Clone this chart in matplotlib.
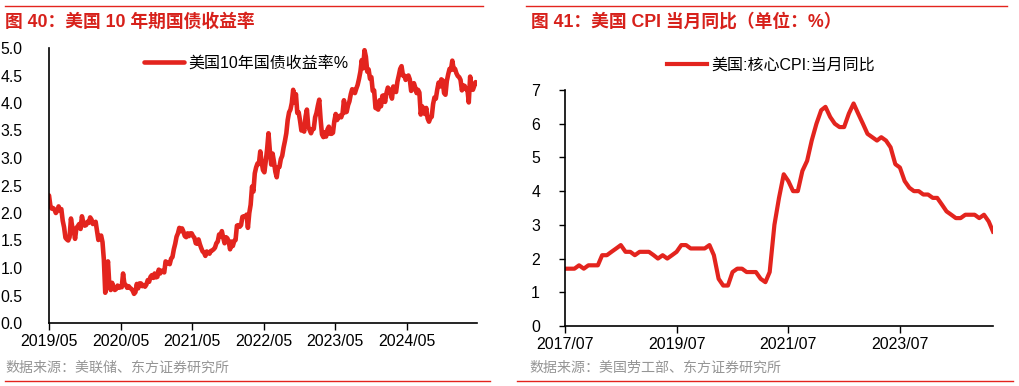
import matplotlib
matplotlib.use('Agg')
import matplotlib.pyplot as plt
import numpy as np
import pandas as pd

plt.rcParams['font.family'] = ['Liberation Sans', 'Noto Sans CJK SC']
plt.rcParams['axes.unicode_minus'] = False

RED = '#E3241E'
TITLE_RED = '#D7211B'

# US 10y treasury yield, weekly (Friday) values from 2019-05-24
y10 = [
    2.32, 2.13,                          # 2019-05
    2.08, 2.09, 2.06, 2.00,
    2.04, 2.12, 2.05, 2.07,
    1.86, 1.74, 1.55, 1.52, 1.50,
    1.56, 1.90, 1.74, 1.68,
    1.53, 1.73, 1.76, 1.80,
    1.71, 1.94, 1.83, 1.77, 1.78,
    1.84, 1.82, 1.92, 1.88,
    1.80, 1.82, 1.84, 1.68, 1.51,        # 2020-01
    1.58, 1.59, 1.47, 1.15,
    0.55, 0.96, 1.12, 0.68,
    0.60, 0.73, 0.65, 0.60,
    0.62, 0.68, 0.64, 0.66, 0.65,
    0.90, 0.70, 0.69, 0.64,
    0.67, 0.64, 0.62, 0.59, 0.53,
    0.56, 0.71, 0.63, 0.72,
    0.72, 0.67, 0.69, 0.66,
    0.70, 0.78, 0.75, 0.84, 0.87,
    0.82, 0.90, 0.83, 0.84,
    0.97, 0.90, 0.95, 0.94,
    0.92, 1.12, 1.09, 1.09, 1.07,        # 2021-01
    1.17, 1.20, 1.34, 1.44,
    1.57, 1.63, 1.73, 1.67,
    1.72, 1.66, 1.58, 1.56, 1.63,
    1.58, 1.63, 1.63, 1.58,
    1.55, 1.45, 1.44, 1.52,
    1.43, 1.36, 1.30, 1.28, 1.22,
    1.30, 1.28, 1.26, 1.31,
    1.32, 1.34, 1.37, 1.45,
    1.48, 1.61, 1.57, 1.67, 1.55,
    1.45, 1.56, 1.54, 1.48,
    1.34, 1.48, 1.40, 1.49, 1.51,
    1.77, 1.78, 1.75, 1.78,              # 2022-01
    1.93, 1.94, 1.93, 1.97,
    1.73, 2.00, 2.15, 2.48,
    2.39, 2.72, 2.83, 2.90, 2.89,
    3.12, 2.93, 2.78, 2.74,
    2.94, 3.16, 3.45, 3.13,
    2.88, 3.08, 2.93, 2.75, 2.65,
    2.83, 2.84, 2.98, 3.04,
    3.19, 3.31, 3.45, 3.69, 3.83,
    3.88, 4.00, 4.24, 4.01,
    4.16, 3.82, 3.83, 3.68,
    3.50, 3.57, 3.48, 3.75, 3.88,
    3.57, 3.51, 3.45, 3.52,              # 2023-01
    3.53, 3.74, 3.82, 3.95,
    4.06, 3.70, 3.43, 3.38, 3.47,
    3.39, 3.52, 3.57, 3.44,
    3.44, 3.46, 3.67, 3.80,
    3.69, 3.74, 3.77, 3.74, 3.81,
    4.05, 3.83, 3.84, 3.96,
    4.03, 4.16, 4.25, 4.24,
    4.18, 4.26, 4.33, 4.44, 4.57,
    4.78, 4.63, 4.96, 4.84,
    4.57, 4.61, 4.44, 4.47,
    4.22, 4.23, 3.91, 3.90, 3.88,
    4.05, 3.94, 4.13, 4.14,              # 2024-01
    4.02, 4.18, 4.28, 4.25,
    4.18, 4.08, 4.30, 4.22, 4.20,
    4.39, 4.50, 4.62, 4.67,
    4.50, 4.50, 4.42, 4.47, 4.50,
    4.43, 4.22, 4.25, 4.36,
    4.28, 4.18, 4.24, 4.19,
    3.79, 3.94, 3.89, 3.80, 3.91,
    3.72, 3.66, 3.73, 3.75,
    3.98, 4.10, 4.08, 4.24,
    4.37, 4.30, 4.43, 4.41, 4.18,
    4.15, 4.40, 4.52, 4.62,
    4.60, 4.77, 4.61, 4.62, 4.54,        # 2025-01
    4.49, 4.47, 4.42, 4.23,
    4.32, 4.31, 4.25, 4.25,
    4.01, 4.48, 4.32, 4.24,
    4.31, 4.38, 4.36,
]
y10_dates = pd.date_range('2019-05-24', periods=len(y10), freq='W-FRI')
y10_ticks = ['2019/05', '2020/05', '2021/05', '2022/05', '2023/05', '2024/05']

# US core CPI yoy, monthly from 2017-07
cpi = [
    1.7, 1.7, 1.7, 1.8, 1.7, 1.8,                              # 2017-07..12
    1.8, 1.8, 2.1, 2.1, 2.2, 2.3, 2.4, 2.2, 2.2, 2.1, 2.2, 2.2,  # 2018
    2.2, 2.1, 2.0, 2.1, 2.0, 2.1, 2.2, 2.4, 2.4, 2.3, 2.3, 2.3,  # 2019
    2.3, 2.4, 2.1, 1.4, 1.2, 1.2, 1.6, 1.7, 1.7, 1.6, 1.6, 1.6,  # 2020
    1.4, 1.3, 1.6, 3.0, 3.8, 4.5, 4.3, 4.0, 4.0, 4.6, 4.9, 5.5,  # 2021
    6.0, 6.4, 6.5, 6.2, 6.0, 5.9, 5.9, 6.3, 6.6, 6.3, 6.0, 5.7,  # 2022
    5.6, 5.5, 5.6, 5.5, 5.3, 4.8, 4.7, 4.3, 4.1, 4.0, 4.0, 3.9,  # 2023
    3.9, 3.8, 3.8, 3.6, 3.4, 3.3, 3.2, 3.2, 3.3, 3.3, 3.3, 3.2,  # 2024
    3.3, 3.1, 2.8,                                              # 2025
]
cpi_dates = pd.date_range('2017-07-01', periods=len(cpi), freq='MS')
cpi_ticks = ['2017/07', '2019/07', '2021/07', '2023/07']

fig = plt.figure(figsize=(10.2, 3.86), dpi=100)

# header / footer decorations
fig.add_artist(plt.Line2D([5/1020, 483/1020], [1-6/386]*2, color=RED, lw=1.0))
fig.add_artist(plt.Line2D([526/1020, 1007/1020], [1-6/386]*2, color=RED, lw=1.0))
fig.add_artist(plt.Line2D([5/1020, 490/1020], [1-381/386]*2, color=RED, lw=1.0))
fig.add_artist(plt.Line2D([517/1020, 1013/1020], [1-381/386]*2, color=RED, lw=1.0))
fig.text(5/1020, 1-22/386, '图 40：美国 10 年期国债收益率', color=TITLE_RED,
         fontsize=12.8, fontweight='bold', va='center', ha='left')
fig.text(531/1020, 1-22/386, '图 41：美国 CPI 当月同比（单位：%）', color=TITLE_RED,
         fontsize=12.8, fontweight='bold', va='center', ha='left')
fig.text(5/1020, 1-368/386, '数据来源：美联储、东方证券研究所', color='#959595',
         fontsize=10.1, va='center', ha='left')
fig.text(529/1020, 1-368/386, '数据来源：美国劳工部、东方证券研究所', color='#959595',
         fontsize=10.1, va='center', ha='left')

# left panel
ax1 = fig.add_axes([49/1020, 1-323/386, (477-49)/1020, (323-48)/386])
ax1.plot(y10_dates, y10, color=RED, lw=3.3, solid_capstyle='round',
         label='美国10年国债收益率%')
ax1.set_ylim(0, 5.0)
ax1.set_yticks(np.arange(0, 5.01, 0.5))
ax1.set_yticklabels(['%.1f' % v for v in np.arange(0, 5.01, 0.5)])
ax1.set_xlim(y10_dates[0], y10_dates[-1])
tk1 = [pd.Timestamp(t.replace('/', '-') + '-24') for t in y10_ticks]
ax1.set_xticks(tk1)
ax1.set_xticklabels(y10_ticks)
ax1.tick_params(axis='y', length=0, pad=19, labelsize=11.4)
ax1.tick_params(axis='x', length=5, width=1, pad=3, labelsize=11.4, direction='out')
for s in ['top', 'right']:
    ax1.spines[s].set_visible(False)
for s in ['left', 'bottom']:
    ax1.spines[s].set_linewidth(1.2)
ax1.legend(loc='upper left', bbox_to_anchor=(0.207, 0.995), frameon=False,
           fontsize=11.5, handlelength=2.5, handletextpad=0.3, borderaxespad=0)

# right panel
ax2 = fig.add_axes([565/1020, 1-326/386, (993-565)/1020, (326-90)/386])
ax2.plot(cpi_dates, cpi, color=RED, lw=3.0, solid_joinstyle='round',
         label='美国:核心CPI:当月同比')
ax2.set_ylim(0, 7)
ax2.set_yticks(range(0, 8))
ax2.set_xlim(cpi_dates[0], cpi_dates[-1])
tk2 = [pd.Timestamp(t.replace('/', '-') + '-01') for t in cpi_ticks]
ax2.set_xticks(tk2)
ax2.set_xticklabels(cpi_ticks)
ax2.tick_params(axis='y', length=4, width=1, pad=14, labelsize=11.4, direction='out')
ax2.tick_params(axis='x', length=5, width=1, pad=3, labelsize=11.4, direction='out')
for s in ['top', 'right']:
    ax2.spines[s].set_visible(False)
for s in ['left', 'bottom']:
    ax2.spines[s].set_linewidth(1.2)
ax2.legend(loc='upper left', bbox_to_anchor=(0.223, 1.165), frameon=False,
           fontsize=11.5, handlelength=2.5, handletextpad=0.3, borderaxespad=0)

fig.savefig('out.png', dpi=100)
